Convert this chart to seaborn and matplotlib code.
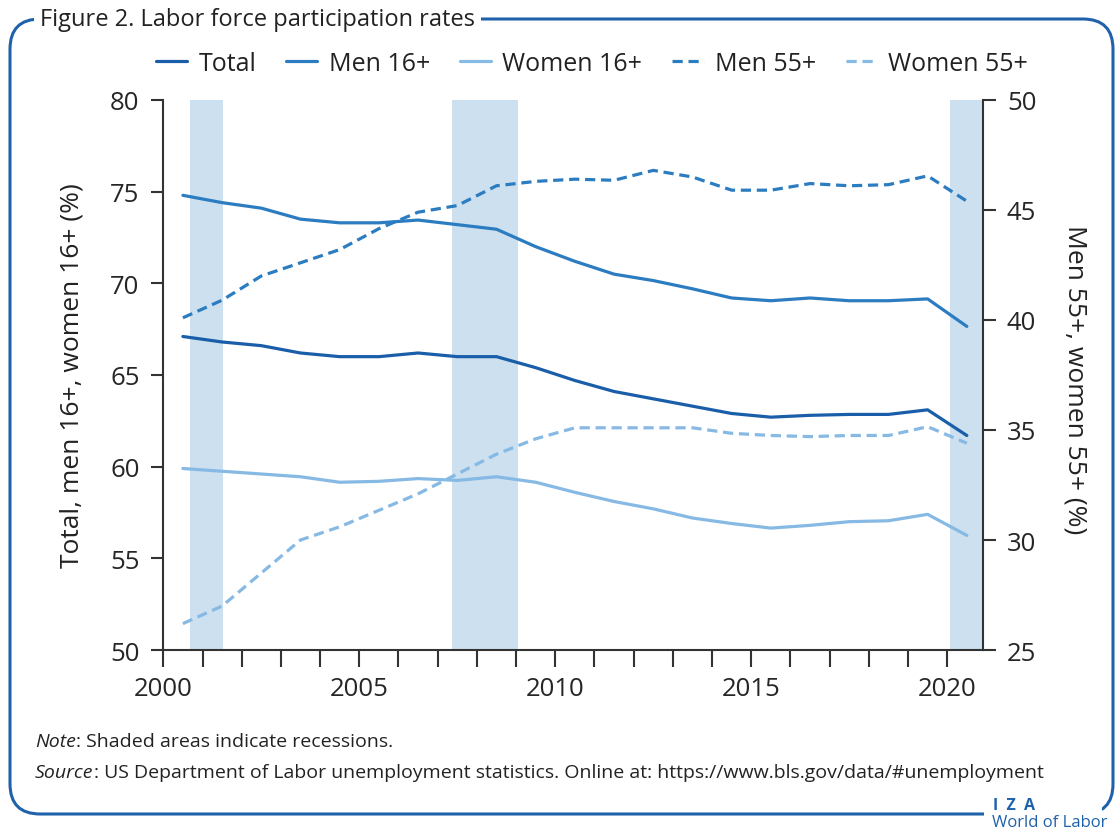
import numpy as np
import matplotlib
matplotlib.use("Agg")
import matplotlib.pyplot as plt
import seaborn as sns
from matplotlib.patches import FancyBboxPatch, Rectangle
from matplotlib.ticker import FixedLocator, FuncFormatter

# data (annual averages)
years = list(range(2000, 2021))
total = [67.1, 66.8, 66.6, 66.2, 66.0, 66.0, 66.2, 66.0, 66.0, 65.4, 64.7,
         64.1, 63.7, 63.3, 62.9, 62.7, 62.8, 62.85, 62.85, 63.1, 61.7]
men16 = [74.8, 74.4, 74.1, 73.5, 73.3, 73.3, 73.45, 73.2, 72.95, 72.0, 71.2,
         70.5, 70.15, 69.7, 69.2, 69.05, 69.2, 69.05, 69.05, 69.15, 67.65]
women16 = [59.9, 59.75, 59.6, 59.45, 59.15, 59.2, 59.35, 59.25, 59.45, 59.15, 58.6,
           58.1, 57.7, 57.2, 56.9, 56.65, 56.8, 57.0, 57.05, 57.4, 56.25]
men55 = [40.1, 40.9, 42.0, 42.6, 43.2, 44.15, 44.9, 45.2, 46.1, 46.3, 46.4,
         46.35, 46.8, 46.5, 45.9, 45.9, 46.2, 46.1, 46.15, 46.55, 45.4]
women55 = [26.2, 27.0, 28.5, 30.0, 30.6, 31.35, 32.1, 33.0, 33.9, 34.6, 35.1,
           35.1, 35.1, 35.1, 34.85, 34.75, 34.7, 34.75, 34.75, 35.15, 34.4]
recession_start = [2000.68, 2007.37, 2020.08]
recession_end = [2001.52, 2009.04, 2020.92]

left_ticks = [50, 55, 60, 65, 70, 75, 80]
right_ticks = [25, 30, 35, 40, 45, 50]

c_total = "#1a5ea9"
c_men = "#2b7cc0"
c_women = "#86b9e4"
c_shade = "#cce0ef"
c_frame = "#1f62ab"
c_axis = "#333333"

sns.set_style("ticks")
plt.rcParams["font.family"] = ["Open Sans", "Liberation Sans", "DejaVu Sans"]
plt.rcParams["text.color"] = "#222222"

fig = plt.figure(figsize=(11.17, 8.29), dpi=100)
ax = fig.add_axes([0.1462, 0.2147, 0.7341, 0.6635])
ax2 = ax.twinx()

x = np.array(years) + 0.5  # annual averages plotted mid-year

for a, b in zip(recession_start, recession_end):
    ax.axvspan(a, b, color=c_shade, lw=0, zorder=0)

dash = (0, (3.2, 1.8))
sns.lineplot(x=x, y=total, ax=ax, color=c_total, lw=2.3, label="Total", legend=False)
sns.lineplot(x=x, y=men16, ax=ax, color=c_men, lw=2.3, label="Men 16+", legend=False)
sns.lineplot(x=x, y=women16, ax=ax, color=c_women, lw=2.3, label="Women 16+", legend=False)
sns.lineplot(x=x, y=men55, ax=ax2, color=c_men, lw=2.3, label="Men 55+", legend=False)
sns.lineplot(x=x, y=women55, ax=ax2, color=c_women, lw=2.3, label="Women 55+", legend=False)
ax2.lines[0].set_linestyle(dash)
ax2.lines[1].set_linestyle(dash)

ax.set_xlim(2000, 2020.92)
ax.set_ylim(50, 80)
ax2.set_ylim(25, 50)
ax.set_yticks(left_ticks)
ax2.set_yticks(right_ticks)
ax.xaxis.set_major_locator(FixedLocator(years))
ax.xaxis.set_major_formatter(FuncFormatter(lambda v, p: f"{int(v)}" if int(v) % 5 == 0 else ""))
ax.set_xlabel("")
ax.set_ylabel("")
ax2.set_ylabel("")

for s in ["top", "right"]:
    ax.spines[s].set_visible(False)
for s in ["top", "left", "bottom"]:
    ax2.spines[s].set_visible(False)
for s in ax.spines.values():
    s.set_color(c_axis)
    s.set_linewidth(1.5)
ax2.spines["right"].set_color(c_axis)
ax2.spines["right"].set_linewidth(1.5)

ax.tick_params(axis="x", length=12, width=1.5, color=c_axis, labelsize=18.5, pad=7)
ax.tick_params(axis="y", length=9, width=1.5, color=c_axis, labelsize=18.5, pad=8)
ax2.tick_params(axis="y", length=9, width=1.5, color=c_axis, labelsize=18.5, pad=8)

fig.text(72 / 1117, 1 - 376 / 829, "Total, men 16+, women 16+ (%)", rotation=90,
         ha="center", va="center", fontsize=19)
fig.text(1075 / 1117, 1 - 380 / 829, "Men 55+, women 55+ (%)", rotation=270,
         ha="center", va="center", fontsize=19)

handles = ax.lines[:3] + ax2.lines[:2]
labels = ["Total", "Men 16+", "Women 16+", "Men 55+", "Women 55+"]
fig.legend(handles, labels, loc="center", bbox_to_anchor=(0.53, 0.922), ncol=5,
           frameon=False, fontsize=18, handlelength=1.25, handletextpad=0.45,
           columnspacing=1.2)

# rounded frame
frame = FancyBboxPatch((10 / 1117, 1 - 815 / 829), 1103 / 1117, 795 / 829,
                       boxstyle="round,pad=0,rounding_size=0.027",
                       mutation_aspect=1117 / 829, transform=fig.transFigure,
                       fill=False, edgecolor=c_frame, lw=2.2, zorder=1)
fig.add_artist(frame)

fig.text(40 / 1117, 1 - 20 / 829, "Figure 2. Labor force participation rates",
         ha="left", va="center", fontsize=17,
         bbox=dict(boxstyle="square,pad=0.25", fc="white", ec="none"), zorder=3)

# notes
rend = fig.canvas.get_renderer()
for ypx, it, rest in [(742, "Note", ": Shaded areas indicate recessions."),
                      (773, "Source", ": US Department of Labor unemployment statistics. "
                                      "Online at: https://www.bls.gov/data/#unemployment")]:
    t = fig.text(35 / 1117, 1 - ypx / 829, it, style="italic", fontsize=14,
                 ha="left", va="center")
    w = t.get_window_extent(rend).width
    fig.text(35 / 1117 + w / 1117, 1 - ypx / 829, rest, fontsize=14, ha="left", va="center")

# IZA logo breaking the frame
fig.add_artist(Rectangle((984 / 1117, 1 - 822 / 829), 118 / 1117, 14 / 829,
                         transform=fig.transFigure, fc="white", ec="none", zorder=2))
fig.text(993 / 1117, 1 - 806 / 829, "I  Z  A", color=c_frame, fontsize=11.5,
         fontweight="bold", ha="left", va="center", zorder=3)
fig.text(992 / 1117, 1 - 823 / 829, "World of Labor", color=c_frame, fontsize=12,
         ha="left", va="center", zorder=3)

fig.savefig("out.png", dpi=100)
